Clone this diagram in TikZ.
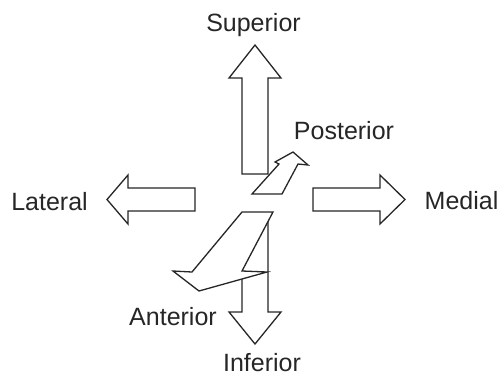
\documentclass[tikz,border=0pt]{standalone}
\usepackage{fontspec}
\setmainfont{Liberation Sans}
\begin{document}
\begin{tikzpicture}[x=1pt,y=-1pt,
  blockarrow/.style={draw=black!85,line width=1.3pt,fill=white,line join=miter},
  dirlabel/.style={font=\fontsize{25}{29}\selectfont,text=black!85,anchor=base,inner sep=0pt}]
\useasboundingbox (0,0) rectangle (500,376);
% superior
\draw[blockarrow] (242,174) -- (242,78) -- (229,78) -- (255,45) -- (281,78) -- (268,78) -- (268,174) -- cycle;
% inferior
\draw[blockarrow] (242,215) -- (242,312) -- (229,312) -- (255,344) -- (281,312) -- (268,312) -- (268,215) -- cycle;
% lateral
\draw[blockarrow] (195,188) -- (128,188) -- (128,175) -- (107,199.5) -- (128,224) -- (128,211) -- (195,211) -- cycle;
% medial
\draw[blockarrow] (313,188) -- (380,188) -- (380,175) -- (405,199.5) -- (380,224) -- (380,211) -- (313,211) -- cycle;
% posterior
\draw[blockarrow] (252,194) -- (279,164) -- (275,162) -- (293,152) -- (308,165) -- (298,164) -- (282,194) -- cycle;
% anterior
\draw[blockarrow] (242,212) -- (273,212) -- (242,271) -- (267,272) -- (199,291) -- (173,271) -- (192,272) -- cycle;
% labels
\node[dirlabel] (sup) at (253.5,31) {Superior};
\node[dirlabel] (post) at (344,139) {Posterior};
\node[dirlabel] (lat) at (49.5,210) {Lateral};
\node[dirlabel] (med) at (461.5,209) {Medial};
\node[dirlabel] (ant) at (173,325) {Anterior};
\node[dirlabel] (inf) at (262,371) {Inferior};
\end{tikzpicture}
\end{document}
